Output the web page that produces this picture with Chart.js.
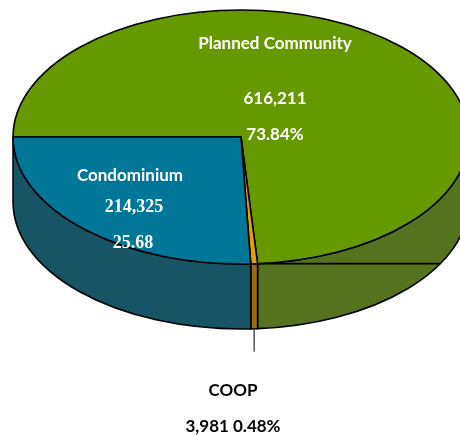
<!DOCTYPE html>
<html>
<head>
<meta charset="utf-8">
<script src="https://cdn.jsdelivr.net/npm/chart.js@4.4.1/dist/chart.umd.min.js"></script>
<style>
  html, body { margin: 0; padding: 0; background: #fff; }
  #wrap { width: 460px; height: 435px; }
</style>
</head>
<body>
<div id="wrap"><canvas id="pieChart" width="460" height="435"></canvas></div>
<script>
// Housing types, clockwise from the left edge of the pie
const categories = ['Planned Community', 'COOP', 'Condominium'];
const counts = [616211, 3981, 214325];
const countLabels = ['616,211', '3,981', '214,325'];
const percentLabels = ['73.84%', '0.48%', '25.68'];

const topColors = ['#669900', '#E8A000', '#007799'];
const sideColors = ['#55731F', '#9A6A12', '#165466'];

// fake 3d look: stretch the pie sideways and give it a wall
const stretchX = 1.795;
const depth = 65;

// where the texts sit (name, count, percent)
const labelSpots = [
    { name: [275, 44], count: [275, 99], pct: [275, 135], color: '#fff' },
    { name: [233, 391], count: [233, 427], color: '#000' },
    { name: [130, 176], count: [134, 207], pct: [133, 243], color: '#fff', serif: true }
];

const sansBold = 'bold 17px Lato, "Liberation Sans", sans-serif';
const serifBold = 'bold 18px "Liberation Serif", "DejaVu Serif", serif';

const pie3d = {
    id: 'pie3d',
    beforeDatasetsDraw(chart) {
        const ctx = chart.ctx;
        const arcs = chart.getDatasetMeta(0).data;
        const cx = arcs[0].x;
        const cy = arcs[0].y;
        const ry = arcs[0].outerRadius;
        const rx = ry * stretchX;

        ctx.save();
        ctx.lineWidth = 1.6;
        ctx.strokeStyle = '#000';
        ctx.lineJoin = 'round';

        // walls - only the front half (0..PI) can be seen
        arcs.forEach((arc, i) => {
            for (let k = 0; k < 3; k++) {
                const lo = Math.max(arc.startAngle, k * 2 * Math.PI);
                const hi = Math.min(arc.endAngle, k * 2 * Math.PI + Math.PI);
                if (hi <= lo) continue;
                ctx.beginPath();
                ctx.ellipse(cx, cy, rx, ry, 0, lo, hi);
                ctx.lineTo(cx + rx * Math.cos(hi), cy + ry * Math.sin(hi) + depth);
                ctx.ellipse(cx, cy + depth, rx, ry, 0, hi, lo, true);
                ctx.closePath();
                ctx.fillStyle = sideColors[i];
                ctx.fill();
                ctx.stroke();
            }
        });

        // the odd straight edge excel leaves on the green wall
        const g = arcs[0];
        const gx = cx + rx * Math.cos(g.endAngle);
        const gy = cy + ry * Math.sin(g.endAngle);
        const t = Math.asin(Math.min(1, (gy - cy - depth) / ry));
        ctx.beginPath();
        ctx.moveTo(gx, gy);
        ctx.lineTo(cx + rx * Math.cos(t), gy);
        ctx.stroke();

        // top faces
        arcs.forEach((arc, i) => {
            ctx.beginPath();
            ctx.moveTo(cx, cy);
            ctx.ellipse(cx, cy, rx, ry, 0, arc.startAngle, arc.endAngle);
            ctx.closePath();
            ctx.fillStyle = topColors[i];
            ctx.fill();
            ctx.stroke();
        });

        // leader line under the thin COOP slice
        const c = arcs[1];
        const mid = (c.startAngle + c.endAngle) / 2;
        const lx = cx + rx * Math.cos(mid);
        const ly = cy + ry * Math.sin(mid) + depth;
        ctx.beginPath();
        ctx.moveTo(lx, ly);
        ctx.lineTo(lx, ly + 23);
        ctx.strokeStyle = '#555';
        ctx.lineWidth = 1.5;
        ctx.stroke();

        // labels
        ctx.textAlign = 'center';
        ctx.textBaseline = 'middle';
        labelSpots.forEach((spot, i) => {
            ctx.fillStyle = spot.color;
            ctx.font = sansBold;
            ctx.fillText(categories[i], spot.name[0], spot.name[1]);
            if (spot.pct) {
                ctx.font = spot.serif ? serifBold : sansBold;
                ctx.fillText(countLabels[i], spot.count[0], spot.count[1]);
                ctx.fillText(percentLabels[i], spot.pct[0], spot.pct[1]);
            } else {
                ctx.fillText(countLabels[i] + ' ' + percentLabels[i], spot.count[0], spot.count[1]);
            }
        });

        ctx.restore();
        return false; // skip the flat default drawing
    }
};

document.addEventListener('DOMContentLoaded', function() {
    new Chart(document.getElementById('pieChart'), {
        type: 'pie',
        data: {
            labels: categories,
            datasets: [{
                data: counts,
                backgroundColor: topColors,
                borderWidth: 0
            }]
        },
        options: {
            responsive: false,
            animation: false,
            rotation: 270,
            layout: { padding: { left: 22, right: 0, top: 10, bottom: 171 } },
            plugins: {
                legend: { display: false },
                tooltip: { enabled: false }
            }
        },
        plugins: [pie3d]
    });
});
</script>
</body>
</html>
